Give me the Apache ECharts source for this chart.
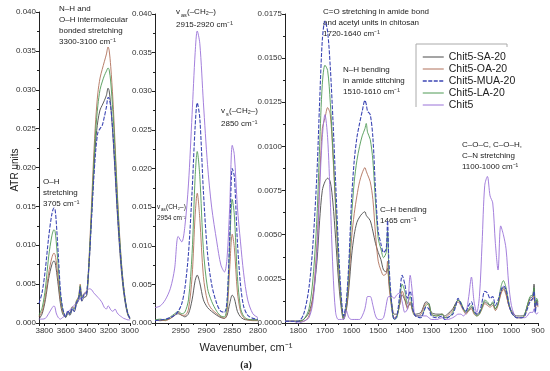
<!DOCTYPE html>
<html><head><meta charset="utf-8">
<script src="https://cdn.jsdelivr.net/npm/echarts@6/dist/echarts.min.js"></script>
<style>html,body{margin:0;padding:0;background:#fff}#c{width:550px;height:371px}</style>
</head><body><div id="c"></div>
<script>
// ---------- DATA ----------
const names = ['Chit5-SA-20','Chit5-OA-20','Chit5-MUA-20','Chit5-LA-20','Chit5'];

// Panel 1: 3850-3000 cm-1
const wn1 = [3850,3820,3790,3760,3730,3710,3700,3690,3670,3650,3630,3610,3600,3580,3560,3540,3520,3500,3480,3465,3450,3430,3410,3400,3380,3360,3340,3320,3300,3280,3260,3240,3220,3205,3195,3180,3160,3140,3120,3100,3080,3060,3040,3020,3000];
const sa1 = [0.0005,0.0012,0.0030,0.0057,0.0075,0.0080,0.0078,0.0070,0.0048,0.0025,0.0012,0.0008,0.0007,0.0012,0.0010,0.0017,0.0015,0.0024,0.0029,0.0042,0.0028,0.0033,0.0034,0.0038,0.0080,0.0135,0.0190,0.0235,0.0260,0.0274,0.0280,0.0286,0.0293,0.0302,0.0299,0.0280,0.0242,0.0195,0.0145,0.0102,0.0066,0.0040,0.0022,0.0010,0.0005];
const oa1 = [0.0008,0.0015,0.0035,0.0064,0.0084,0.0090,0.0088,0.0080,0.0056,0.0029,0.0015,0.0010,0.0009,0.0015,0.0013,0.0021,0.0019,0.0029,0.0034,0.0050,0.0034,0.0038,0.0040,0.0042,0.0090,0.0150,0.0212,0.0262,0.0296,0.0315,0.0326,0.0336,0.0346,0.0355,0.0351,0.0330,0.0288,0.0232,0.0172,0.0120,0.0078,0.0048,0.0026,0.0012,0.0006];
const mua1 = [0.0025,0.0040,0.0070,0.0110,0.0140,0.0148,0.0146,0.0132,0.0088,0.0042,0.0020,0.0010,0.0008,0.0016,0.0011,0.0019,0.0015,0.0026,0.0031,0.0046,0.0029,0.0036,0.0037,0.0045,0.0082,0.0132,0.0182,0.0222,0.0245,0.0250,0.0254,0.0265,0.0278,0.0290,0.0289,0.0278,0.0245,0.0200,0.0150,0.0108,0.0072,0.0045,0.0025,0.0012,0.0006];
const la1 = [0.0010,0.0020,0.0045,0.0085,0.0112,0.0120,0.0118,0.0106,0.0072,0.0036,0.0018,0.0010,0.0008,0.0014,0.0012,0.0020,0.0018,0.0028,0.0033,0.0048,0.0032,0.0037,0.0039,0.0042,0.0086,0.0140,0.0198,0.0248,0.0280,0.0300,0.0310,0.0318,0.0324,0.0328,0.0326,0.0310,0.0272,0.0222,0.0166,0.0116,0.0076,0.0046,0.0026,0.0012,0.0006];
const chit1 = [0.0005,0.0005,0.0006,0.0012,0.0019,0.0022,0.0020,0.0013,0.0007,0.0005,0.0007,0.0009,0.0010,0.0014,0.0017,0.0020,0.0023,0.0026,0.0030,0.0031,0.0032,0.0036,0.0040,0.0042,0.0044,0.0043,0.0039,0.0036,0.0033,0.0030,0.0026,0.0020,0.0018,0.0022,0.0021,0.0017,0.0015,0.0018,0.0013,0.0010,0.0008,0.0006,0.0005,0.0004,0.0004];

// Panel 2: 3000-2800 cm-1
const wn2 = [3000,2990,2980,2970,2962,2955,2948,2942,2935,2928,2922,2918,2913,2906,2898,2890,2880,2872,2865,2860,2855,2850,2846,2840,2834,2828,2820,2810,2800];
const sa2 = [0.0004,0.0003,0.0004,0.0006,0.0010,0.0012,0.0010,0.0008,0.0012,0.0030,0.0055,0.0062,0.0052,0.0030,0.0020,0.0015,0.0010,0.0007,0.0006,0.0010,0.0025,0.0036,0.0032,0.0015,0.0008,0.0005,0.0004,0.0004,0.0004];
const oa2 = [0.0003,0.0004,0.0003,0.0006,0.0010,0.0014,0.0010,0.0010,0.0018,0.0060,0.0140,0.0168,0.0135,0.0060,0.0028,0.0018,0.0012,0.0008,0.0006,0.0015,0.0070,0.0115,0.0098,0.0040,0.0015,0.0007,0.0004,0.0003,0.0003];
const mua2 = [0.0003,0.0004,0.0005,0.0007,0.0010,0.0015,0.0025,0.0045,0.0090,0.0170,0.0255,0.0285,0.0265,0.0170,0.0090,0.0050,0.0025,0.0015,0.0014,0.0030,0.0110,0.0200,0.0190,0.0105,0.0050,0.0022,0.0010,0.0006,0.0005];
const la2 = [0.0004,0.0005,0.0004,0.0008,0.0012,0.0015,0.0012,0.0014,0.0030,0.0090,0.0190,0.0222,0.0190,0.0095,0.0045,0.0028,0.0015,0.0009,0.0008,0.0025,0.0100,0.0160,0.0140,0.0060,0.0020,0.0009,0.0005,0.0004,0.0004];
const chit2 = [0.0020,0.0022,0.0030,0.0045,0.0070,0.0112,0.0105,0.0125,0.0180,0.0270,0.0350,0.0378,0.0362,0.0285,0.0205,0.0150,0.0105,0.0075,0.0066,0.0085,0.0150,0.0230,0.0218,0.0150,0.0105,0.0065,0.0030,0.0012,0.0007];

// Panel 3: 1850-900 cm-1
const wn3 = [1850,1820,1800,1780,1760,1745,1730,1720,1710,1700,1690,1680,1670,1660,1650,1640,1630,1620,1610,1600,1590,1580,1570,1560,1550,1545,1540,1530,1520,1510,1500,1490,1480,1470,1465,1460,1450,1440,1430,1420,1410,1400,1390,1380,1370,1360,1340,1320,1310,1300,1280,1260,1250,1240,1220,1210,1200,1190,1180,1170,1160,1150,1140,1130,1120,1110,1100,1090,1080,1070,1060,1050,1040,1030,1020,1010,1000,990,980,970,960,950,940,930,920,915,910,905,900];
const sa3 = [0.0001,0.0001,0.0001,0.0002,0.0006, 0.0015,0.0035,0.0058,0.0075,0.0080, 0.0082,0.0080,0.0068,0.0048,0.0026, 0.0010,0.0002,0.0007,0.0020,0.0038, 0.0050,0.0057,0.0060,0.0062,0.0063, 0.0061,0.0060,0.0058,0.0052,0.0045, 0.0040,0.0036,0.0030,0.0029,0.0031, 0.0024,0.0012,0.0005,0.0005,0.0010, 0.0016,0.0013,0.0009,0.0011,0.0007, 0.0005,0.0006,0.0012,0.0011,0.0006, 0.0005,0.0005,0.0004,0.0005,0.0008, 0.0011,0.0013,0.0011,0.0008,0.0006, 0.0007,0.0009,0.0006,0.0005,0.0006, 0.0009,0.0012,0.0011,0.0010,0.0011, 0.0008,0.0011,0.0017,0.0020,0.0017, 0.0010,0.0007,0.0005,0.0004,0.0004, 0.0004,0.0005,0.0010,0.0014,0.0015, 0.0022,0.0009,0.0013,0.0011];
const oa3 = [0.0001,0.0001,0.0001,0.0001,0.0004, 0.0015,0.0045,0.0080,0.0110,0.0116, 0.0122,0.0118,0.0095,0.0065,0.0035, 0.0013,0.0003,0.0008,0.0024,0.0048, 0.0062,0.0072,0.0080,0.0085,0.0088, 0.0086,0.0084,0.0080,0.0070,0.0050, 0.0035,0.0030,0.0027,0.0028,0.0035, 0.0022,0.0009,0.0003,0.0004,0.0010, 0.0018,0.0014,0.0008,0.0012,0.0006, 0.0004,0.0005,0.0011,0.0010,0.0005, 0.0004,0.0005,0.0003,0.0004,0.0007, 0.0010,0.0012,0.0010,0.0007,0.0005, 0.0007,0.0008,0.0005,0.0004,0.0005, 0.0008,0.0011,0.0010,0.0009,0.0010, 0.0007,0.0010,0.0016,0.0019,0.0016, 0.0010,0.0006,0.0004,0.0003,0.0003, 0.0003,0.0004,0.0009,0.0013,0.0013, 0.0017,0.0008,0.0012,0.0009];
const mua3 = [0.0001,0.0001,0.0001,0.0005,0.0020, 0.0045,0.0085,0.0125,0.0160,0.0171, 0.0165,0.0145,0.0115,0.0080,0.0045, 0.0018,0.0004,0.0012,0.0035,0.0070, 0.0092,0.0105,0.0113,0.0120,0.0126, 0.0124,0.0120,0.0118,0.0105,0.0075, 0.0052,0.0045,0.0040,0.0042,0.0058, 0.0035,0.0012,0.0002,0.0004,0.0015, 0.0027,0.0022,0.0014,0.0018,0.0008, 0.0004,0.0003,0.0009,0.0008,0.0004, 0.0003,0.0004,0.0002,0.0003,0.0005, 0.0009,0.0014,0.0011,0.0008,0.0007, 0.0010,0.0012,0.0007,0.0005,0.0006, 0.0012,0.0018,0.0017,0.0014,0.0015, 0.0010,0.0013,0.0018,0.0021,0.0019, 0.0011,0.0006,0.0004,0.0003,0.0003, 0.0003,0.0004,0.0008,0.0012,0.0014, 0.0018,0.0006,0.0012,0.0010];
const la3 = [0.0001,0.0001,0.0001,0.0002,0.0008, 0.0025,0.0060,0.0100,0.0135,0.0146, 0.0143,0.0125,0.0098,0.0068,0.0038, 0.0014,0.0003,0.0010,0.0030,0.0060, 0.0080,0.0092,0.0100,0.0106,0.0110, 0.0113,0.0108,0.0104,0.0092,0.0068, 0.0048,0.0042,0.0037,0.0040,0.0052, 0.0030,0.0010,0.0002,0.0003,0.0012, 0.0022,0.0018,0.0011,0.0015,0.0007, 0.0004,0.0004,0.0010,0.0011,0.0005, 0.0004,0.0005,0.0003,0.0003,0.0006, 0.0010,0.0013,0.0012,0.0008,0.0006, 0.0008,0.0010,0.0006,0.0004,0.0005, 0.0009,0.0013,0.0012,0.0010,0.0012, 0.0008,0.0011,0.0020,0.0024,0.0020, 0.0012,0.0006,0.0004,0.0003,0.0003, 0.0003,0.0005,0.0010,0.0015,0.0016, 0.0020,0.0010,0.0014,0.0012];
const chit3 = [0.0001,0.0001,0.0000,0.0001,0.0003, 0.0012,0.0040,0.0075,0.0105,0.0118, 0.0105,0.0070,0.0030,0.0006,0.0002, 0.0002,0.0002,0.0007,0.0003,0.0002, 0.0002,0.0002,0.0002,0.0004,0.0008, 0.0012,0.0015,0.0015,0.0010,0.0004, 0.0002,0.0002,0.0003,0.0010,0.0014, 0.0015,0.0015,0.0014,0.0016,0.0017, 0.0012,0.0006,0.0008,0.0027,0.0015, 0.0004,0.0004,0.0004,0.0003,0.0002, 0.0002,0.0003,0.0002,0.0002,0.0003, 0.0004,0.0005,0.0005,0.0004,0.0006, 0.0015,0.0026,0.0012,0.0006,0.0015, 0.0045,0.0078,0.0083,0.0072,0.0068, 0.0045,0.0030,0.0055,0.0050,0.0042, 0.0022,0.0010,0.0005,0.0003,0.0003, 0.0003,0.0003,0.0004,0.0006,0.0006, 0.0008,0.0006,0.0005,0.0006];

// ---------- STYLE ----------
const colors = ['#4a4a4a','#b0705a','#3c46b4','#4f9a55','#9a72d8'];
const FONT = '"Liberation Sans", Arial, sans-serif';

const panels = [
  {wn: wn1, vals: [sa1, oa1, mua1, la1, chit1]},
  {wn: wn2, vals: [sa2, oa2, mua2, la2, chit2]},
  {wn: wn3, vals: [sa3, oa3, mua3, la3, chit3]}
];

const series = [];
panels.forEach((p, gi) => {
  p.vals.forEach((v, si) => {
    series.push({
      name: names[si], type: 'line', xAxisIndex: gi, yAxisIndex: gi,
      symbol: 'none', smooth: 0.3, animation: false,
      lineStyle: {width: si === 2 ? 1.1 : 0.9, color: colors[si], type: si === 2 ? [4, 1.5] : 'solid'},
      itemStyle: {color: colors[si]},
      z: si === 2 ? 5 : 3,
      data: p.wn.map((w, i) => [w, v[i]])
    });
  });
});

const axisCommon = {
  axisLine: {show: true, onZero: false, lineStyle: {color: '#222', width: 1}},
  axisTick: {show: true, inside: false, length: 3, lineStyle: {color: '#222'}},
  minorTick: {show: true, splitNumber: 2, length: 2, lineStyle: {color: '#222'}},
  splitLine: {show: false},
  axisLabel: {fontSize: 8, color: '#333', fontFamily: FONT, margin: 3}
};
function xAx(gi, min, max, interval) {
  return Object.assign({}, axisCommon, {
    type: 'value', gridIndex: gi, inverse: true, min: min, max: max, interval: interval,
    axisLabel: Object.assign({}, axisCommon.axisLabel, {showMaxLabel: false, showMinLabel: true, margin: 4,
      formatter: v => String(Math.round(v))})
  });
}
function yAx(gi, max, interval, dec) {
  return Object.assign({}, axisCommon, {
    type: 'value', gridIndex: gi, min: 0, max: max, interval: interval,
    axisLabel: Object.assign({}, axisCommon.axisLabel, {formatter: v => v.toFixed(dec)})
  });
}

function t(x, y, text, size, extra) {
  return Object.assign({type: 'text', x: x, y: y, silent: true,
    style: {text: text, font: (size || 8) + 'px ' + FONT, fill: '#222', textBaseline: 'top'}}, extra || {});
}

const graphic = [
  // panel 1 annotations
  t(59, 5, 'N–H and', 8), t(59, 16, 'O–H intermolecular', 8), t(59, 27, 'bonded stretching', 8), t(59, 38, '3300-3100 cm⁻¹', 8),
  t(43, 178, 'O–H', 8), t(43, 189, 'stretching', 8), t(43, 200, '3705 cm⁻¹', 8),
  // panel 2 annotations
  t(176, 8, 'v', 8), t(181, 12, 'as', 5.5), t(187, 8, '(–CH₂–)', 8), t(176, 21, '2915-2920 cm⁻¹', 8),
  t(221, 107, 'v', 8), t(226, 111, 's', 5.5), t(229, 107, '(–CH₂–)', 8), t(221, 120, '2850 cm⁻¹', 8),
  t(157, 204, 'v', 6.5), t(161, 207, 'as', 4.5), t(166, 204, '(CH₂–)', 6.5), t(157, 215, '2954 cm⁻¹', 6.5),
  // panel 3 annotations
  t(323, 8, 'C=O stretching in amide bond', 8), t(323, 19, 'and acetyl units in chitosan', 8), t(323, 30, '1720-1640 cm⁻¹', 8),
  t(343, 66, 'N–H bending', 8), t(343, 77, 'in amide stitching', 8), t(343, 88, '1510-1610 cm⁻¹', 8),
  t(380, 206, 'C–H bending', 8), t(380, 217, '1465 cm⁻¹', 8),
  t(462, 141, 'C–O–C, C–O–H,', 8), t(462, 152, 'C–N stretching', 8), t(462, 163, '1100-1000 cm⁻¹', 8),
  // axis titles
  {type: 'text', x: 10, y: 170, rotation: Math.PI / 2, silent: true,
   style: {text: 'ATR units', font: '10px ' + FONT, fill: '#222', textAlign: 'center', textBaseline: 'middle'}},
  {type: 'text', x: 246, y: 342, silent: true,
   style: {text: 'Wavenumber, cm⁻¹', font: '11px ' + FONT, fill: '#222', textAlign: 'center', textBaseline: 'middle'}},
  {type: 'text', x: 246, y: 360, silent: true,
   style: {text: '(a)', font: 'bold 10px "Liberation Serif", serif', fill: '#222', textAlign: 'center', textBaseline: 'middle'}},
  // legend frame
  {type: 'polyline', silent: true, shape: {points: [[416, 107], [416, 44], [507, 44], [507, 47]]},
   style: {stroke: '#aaa', lineWidth: 1, fill: null}}
];

const chart = echarts.init(document.getElementById('c'), null, {renderer: 'canvas'});
chart.setOption({
  animation: false,
  backgroundColor: '#fff',
  grid: [
    {left: 39, top: 12, width: 91, height: 311},
    {left: 155, top: 14, width: 103, height: 309},
    {left: 285, top: 14, width: 253, height: 309}
  ],
  xAxis: [xAx(0, 3000, 3850, 200), xAx(1, 2800, 3000, 50), xAx(2, 900, 1850, 100)],
  yAxis: [yAx(0, 0.040, 0.005, 3), yAx(1, 0.040, 0.005, 3), yAx(2, 0.0175, 0.0025, 4)],
  legend: {
    data: names.map((n, i) => ({name: n, lineStyle: {width: i === 2 ? 1.5 : 1}})),
    orient: 'vertical', left: 417, top: 46, itemWidth: 21, itemHeight: 12, itemGap: 0,
    itemStyle: {opacity: 0},
    textStyle: {fontSize: 10.5, lineHeight: 12, color: '#222', fontFamily: FONT},
    selectedMode: false
  },
  series: series,
  graphic: graphic
});
</script></body></html>
